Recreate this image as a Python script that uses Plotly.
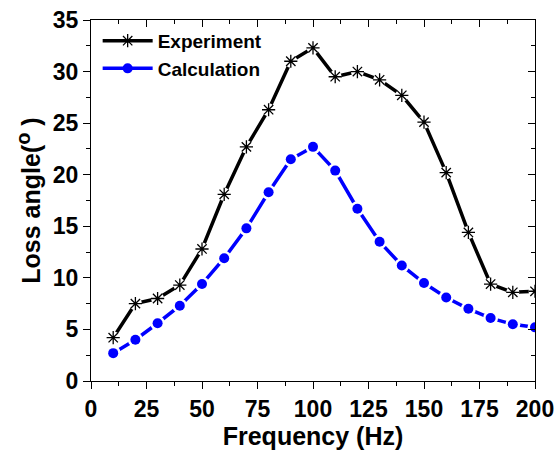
import plotly.graph_objects as go

freq = [10, 20, 30, 40, 50, 60, 70, 80, 90, 100, 110, 120, 130, 140, 150, 160, 170, 180, 190, 200]
experiment = [4.2, 7.5, 8.0, 9.3, 12.8, 18.1, 22.7, 26.3, 31.0, 32.3, 29.5, 30.0, 29.2, 27.7, 25.1, 20.2, 14.4, 9.4, 8.6, 8.7]
calculation = [2.7, 4.0, 5.6, 7.3, 9.4, 11.9, 14.8, 18.3, 21.5, 22.7, 20.4, 16.7, 13.5, 11.2, 9.5, 8.1, 7.0, 6.1, 5.5, 5.2]

FONT = "Liberation Sans, Arial, sans-serif"
BLUE = "#0000FF"

fig = go.Figure()

# Experiment
fig.add_trace(go.Scatter(x=freq, y=experiment, mode="lines", line=dict(color="black", width=3.5),
                         showlegend=False, hoverinfo="skip"))
fig.add_trace(go.Scatter(x=freq, y=experiment, mode="markers", marker=dict(symbol="circle", size=13, color="white"),
                         showlegend=False, hoverinfo="skip"))
fig.add_trace(go.Scatter(x=freq, y=experiment, mode="markers", showlegend=False,
                         marker=dict(symbol="asterisk-open", size=11, color="black", line=dict(color="black", width=1.3))))

# Calculation
fig.add_trace(go.Scatter(x=freq, y=calculation, mode="lines", line=dict(color=BLUE, width=3.5),
                         showlegend=False, hoverinfo="skip"))
fig.add_trace(go.Scatter(x=freq, y=calculation, mode="markers", marker=dict(symbol="circle", size=15, color="white"),
                         showlegend=False, hoverinfo="skip"))
fig.add_trace(go.Scatter(x=freq, y=calculation, mode="markers", showlegend=False,
                         marker=dict(symbol="circle", size=10, color=BLUE)))

# legend entries
fig.add_trace(go.Scatter(x=[None], y=[None], mode="lines+markers", name="Experiment",
                         line=dict(color="black", width=3.5),
                         marker=dict(symbol="asterisk-open", size=11, color="black", line=dict(color="black", width=1.3))))
fig.add_trace(go.Scatter(x=[None], y=[None], mode="lines+markers", name="Calculation",
                         line=dict(color=BLUE, width=3.5),
                         marker=dict(symbol="circle", size=10, color=BLUE)))

# invisible trace for mirrored axes
fig.add_trace(go.Scatter(x=[0], y=[0], xaxis="x2", yaxis="y2", mode="markers",
                         marker=dict(opacity=0), showlegend=False, hoverinfo="skip"))

axis_common = dict(showline=True, linecolor="black", linewidth=1.2, showgrid=False, zeroline=False,
                   tickcolor="black", tickwidth=1.2, automargin=False,
                   tickfont=dict(family=FONT, size=23, color="black", weight="bold"))

xt = [0, 25, 50, 75, 100, 125, 150, 175, 200]
xm = [12.5, 37.5, 62.5, 87.5, 112.5, 137.5, 162.5, 187.5]
yt = [0, 5, 10, 15, 20, 25, 30, 35]
ym = [2.5, 7.5, 12.5, 17.5, 22.5, 27.5, 32.5]

fig.update_layout(
    width=558, height=452,
    margin=dict(l=91, r=23, t=20, b=71),
    paper_bgcolor="white", plot_bgcolor="white",
    showlegend=True,
    legend=dict(x=0.015, y=0.995, xanchor="left", yanchor="top", bgcolor="rgba(0,0,0,0)",
                font=dict(family=FONT, size=19, color="black", weight="bold"),
                itemwidth=50, tracegroupgap=0),
    xaxis=dict(range=[0, 200], tickvals=xt, ticks="outside", ticklen=7,
               minor=dict(tickvals=xm, ticks="outside", ticklen=4, tickcolor="black", tickwidth=1.2),
               title=dict(text="Frequency (Hz)", font=dict(family=FONT, size=25, color="black", weight="bold"), standoff=4),
               **axis_common),
    yaxis=dict(range=[0, 35], tickvals=yt, ticks="outside", ticklen=7,
               minor=dict(tickvals=ym, ticks="outside", ticklen=4, tickcolor="black", tickwidth=1.2),
               title=dict(text="Loss angle(<sup><span style='font-size:20px'>o</span></sup> )",
                          font=dict(family=FONT, size=25, color="black", weight="bold"), standoff=4),
               **axis_common),
    xaxis2=dict(overlaying="x", side="top", range=[0, 200], tickvals=xt, ticks="inside", ticklen=7, showticklabels=False,
                minor=dict(tickvals=xm, ticks="inside", ticklen=4, tickcolor="black", tickwidth=1.2),
                **axis_common),
    yaxis2=dict(overlaying="y", side="right", range=[0, 35], tickvals=yt, ticks="inside", ticklen=7, showticklabels=False,
                minor=dict(tickvals=ym, ticks="inside", ticklen=4, tickcolor="black", tickwidth=1.2),
                **axis_common),
)

fig.write_html("out.html")
